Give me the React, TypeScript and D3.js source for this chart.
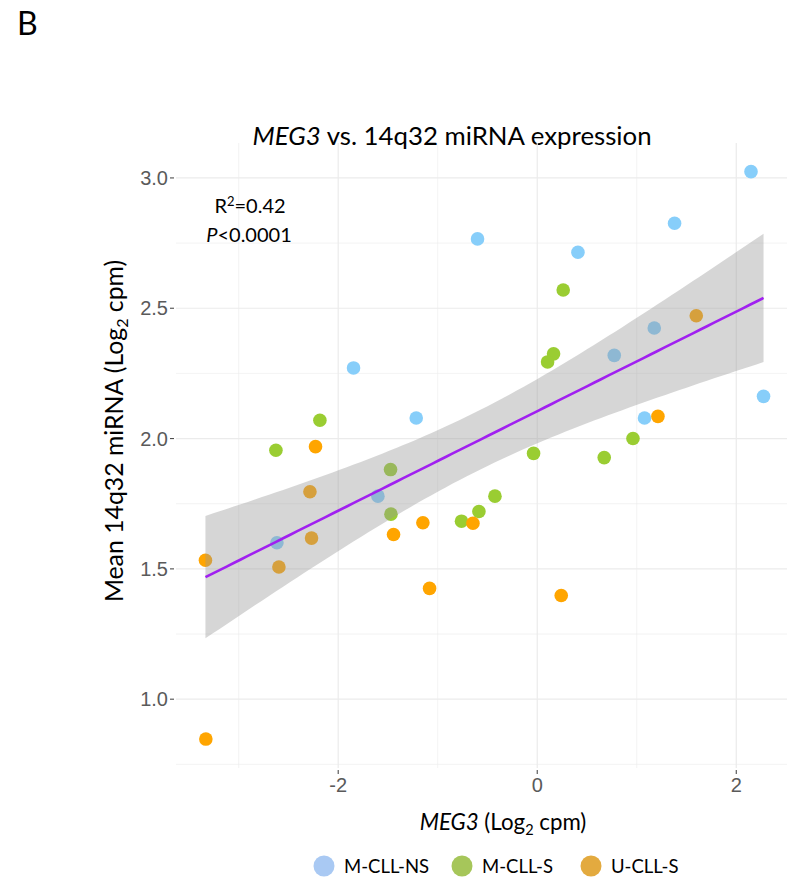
import React from "react";
import * as d3 from "d3";

const groups = ["M-CLL-NS", "M-CLL-S", "U-CLL-S"];
const pointColors = ["#87CEFA", "#9ACD32", "#FFA500"];
const legendColors = ["#a9c9f3", "#a6c65a", "#e3aa3f"];

const nsX = [2.148, 1.38, -0.6, 0.409, -1.846, 0.774, 1.176, 2.274, -1.216, 1.078, -1.601, -2.616];
const nsY = [3.024, 2.826, 2.766, 2.715, 2.271, 2.319, 2.424, 2.162, 2.079, 2.079, 1.779, 1.6];
const sX = [0.261, 0.164, 0.104, -2.184, -2.626, -1.474, -1.47, -0.037, 0.673, 0.962, -0.425, -0.586, -0.761];
const sY = [2.57, 2.325, 2.294, 2.07, 1.955, 1.881, 1.71, 1.943, 1.927, 2.0, 1.779, 1.72, 1.683];
const uX = [1.598, 1.213, -2.228, -2.284, -2.268, -3.334, -2.596, -1.444, -1.149, -0.646, -1.082, 0.241, -3.33];
const uY = [2.471, 2.085, 1.969, 1.796, 1.618, 1.533, 1.507, 1.632, 1.677, 1.675, 1.425, 1.398, 0.847];

const xTicks = [-2, 0, 2];
const xMinor = [-3, -1, 1];
const yTicks = [1.0, 1.5, 2.0, 2.5, 3.0];
const yMinor = [0.75, 1.25, 1.75, 2.25, 2.75];

const W = 787;
const H = 879;
const left = 176;
const right = 791;
const top = 143;
const bottom = 768;

export default function App() {
  const pts = [
    ...nsX.map((x, i) => ({ x, y: nsY[i], g: 0 })),
    ...sX.map((x, i) => ({ x, y: sY[i], g: 1 })),
    ...uX.map((x, i) => ({ x, y: uY[i], g: 2 })),
  ];
  const x = d3.scaleLinear().domain([-3.63, 2.55]).range([left, right]);
  const y = d3.scaleLinear().domain([0.736, 3.134]).range([bottom, top]);

  // OLS fit with 95% CI
  const n = pts.length;
  const mx = d3.mean(pts, (d) => d.x)!;
  const my = d3.mean(pts, (d) => d.y)!;
  const sxx = d3.sum(pts, (d) => (d.x - mx) ** 2);
  const sxy = d3.sum(pts, (d) => (d.x - mx) * (d.y - my));
  const b = sxy / sxx;
  const a = my - b * mx;
  const sse = d3.sum(pts, (d) => (d.y - a - b * d.x) ** 2);
  const s = Math.sqrt(sse / (n - 2));
  const t = 2.028;
  const [x0, x1] = d3.extent(pts, (d) => d.x) as [number, number];
  const grid = d3.range(80).map((i) => x0 + ((x1 - x0) * i) / 79);
  const band = grid.map((gx) => {
    const fit = a + b * gx;
    const se = s * Math.sqrt(1 / n + (gx - mx) ** 2 / sxx);
    return { x: gx, fit, lo: fit - t * se, hi: fit + t * se };
  });
  const area = d3
    .area<any>()
    .x((d) => x(d.x))
    .y0((d) => y(d.lo))
    .y1((d) => y(d.hi));
  const line = d3
    .line<any>()
    .x((d) => x(d.x))
    .y((d) => y(d.fit));

  const calibri = "Lato, 'Open Sans', sans-serif";
  const arial = "'Liberation Sans', Arial, sans-serif";

  return (
    <svg width={W} height={H} style={{ position: "absolute", left: 0, top: 0, background: "#fff" }}>
      <rect width={W} height={H} fill="#fff" />
      <text x={17} y={35} fontFamily={calibri} fontSize={32} fill="#000">B</text>
      <text x={452} y={145} textAnchor="middle" fontFamily={calibri} fontSize={25.8} fill="#000">
        <tspan fontStyle="italic">MEG3</tspan> vs. 14q32 miRNA expression
      </text>
      <defs>
        <clipPath id="panel">
          <rect x={left} y={top} width={right - left} height={bottom - top} />
        </clipPath>
      </defs>
      <g>
        {xMinor.map((v) => (
          <line key={"xm" + v} x1={x(v)} x2={x(v)} y1={top} y2={bottom} stroke="#ebebeb" strokeWidth={0.6} />
        ))}
        {yMinor.map((v) => (
          <line key={"ym" + v} x1={left} x2={right} y1={y(v)} y2={y(v)} stroke="#ebebeb" strokeWidth={0.6} />
        ))}
        {xTicks.map((v) => (
          <line key={"x" + v} x1={x(v)} x2={x(v)} y1={top} y2={bottom} stroke="#ebebeb" strokeWidth={1.2} />
        ))}
        {yTicks.map((v) => (
          <line key={"y" + v} x1={left} x2={right} y1={y(v)} y2={y(v)} stroke="#ebebeb" strokeWidth={1.2} />
        ))}
      </g>
      <g clipPath="url(#panel)">
        {pts.map((d, i) => (
          <circle key={i} cx={x(d.x)} cy={y(d.y)} r={6.8} fill={pointColors[d.g]} />
        ))}
        <path d={area(band)!} fill="#999999" fillOpacity={0.4} />
        <path d={line(band)!} fill="none" stroke="#A020F0" strokeWidth={2.6} />
      </g>
      {yTicks.map((v) => (
        <g key={"yt" + v}>
          <line x1={left - 6} x2={left - 2} y1={y(v)} y2={y(v)} stroke="#4d4d4d" strokeWidth={1.1} />
          <text x={left - 8} y={y(v)} dy="0.36em" textAnchor="end" fontFamily={arial} fontSize={20} fill="#5a5a5a">
            {v.toFixed(1)}
          </text>
        </g>
      ))}
      {xTicks.map((v) => (
        <g key={"xt" + v}>
          <line x1={x(v)} x2={x(v)} y1={bottom + 2} y2={bottom + 6} stroke="#4d4d4d" strokeWidth={1.1} />
          <text x={x(v)} y={bottom + 24} textAnchor="middle" fontFamily={arial} fontSize={20} fill="#5a5a5a">
            {v}
          </text>
        </g>
      ))}
      <text x={250} y={213} textAnchor="middle" fontFamily={calibri} fontSize={20} fill="#000">
        R<tspan dy={-7} fontSize={13}>2</tspan><tspan dy={7}>=0.42</tspan>
      </text>
      <text x={249} y={242} textAnchor="middle" fontFamily={calibri} fontSize={20} fill="#000">
        <tspan fontStyle="italic">P</tspan>&lt;0.0001
      </text>
      <text x={503} y={830} textAnchor="middle" fontFamily={calibri} fontSize={22.3} fill="#000">
        <tspan fontStyle="italic">MEG3</tspan> (Log<tspan dy={5} fontSize={14.5}>2</tspan><tspan dy={-5}> cpm)</tspan>
      </text>
      <text
        transform={`translate(123,431) rotate(-90)`}
        textAnchor="middle"
        fontFamily={calibri}
        fontSize={24.8}
        fill="#000"
      >
        Mean 14q32 miRNA (Log<tspan dy={5} fontSize={16}>2</tspan><tspan dy={-5}> cpm)</tspan>
      </text>
      {groups.map((g, i) => {
        const cx = [324, 462, 591][i];
        return (
          <g key={g}>
            <circle cx={cx} cy={866} r={10.5} fill={legendColors[i]} />
            <text x={cx + 20} y={873} fontFamily={calibri} fontSize={18.5} fill="#000">
              {g}
            </text>
          </g>
        );
      })}
    </svg>
  );
}
